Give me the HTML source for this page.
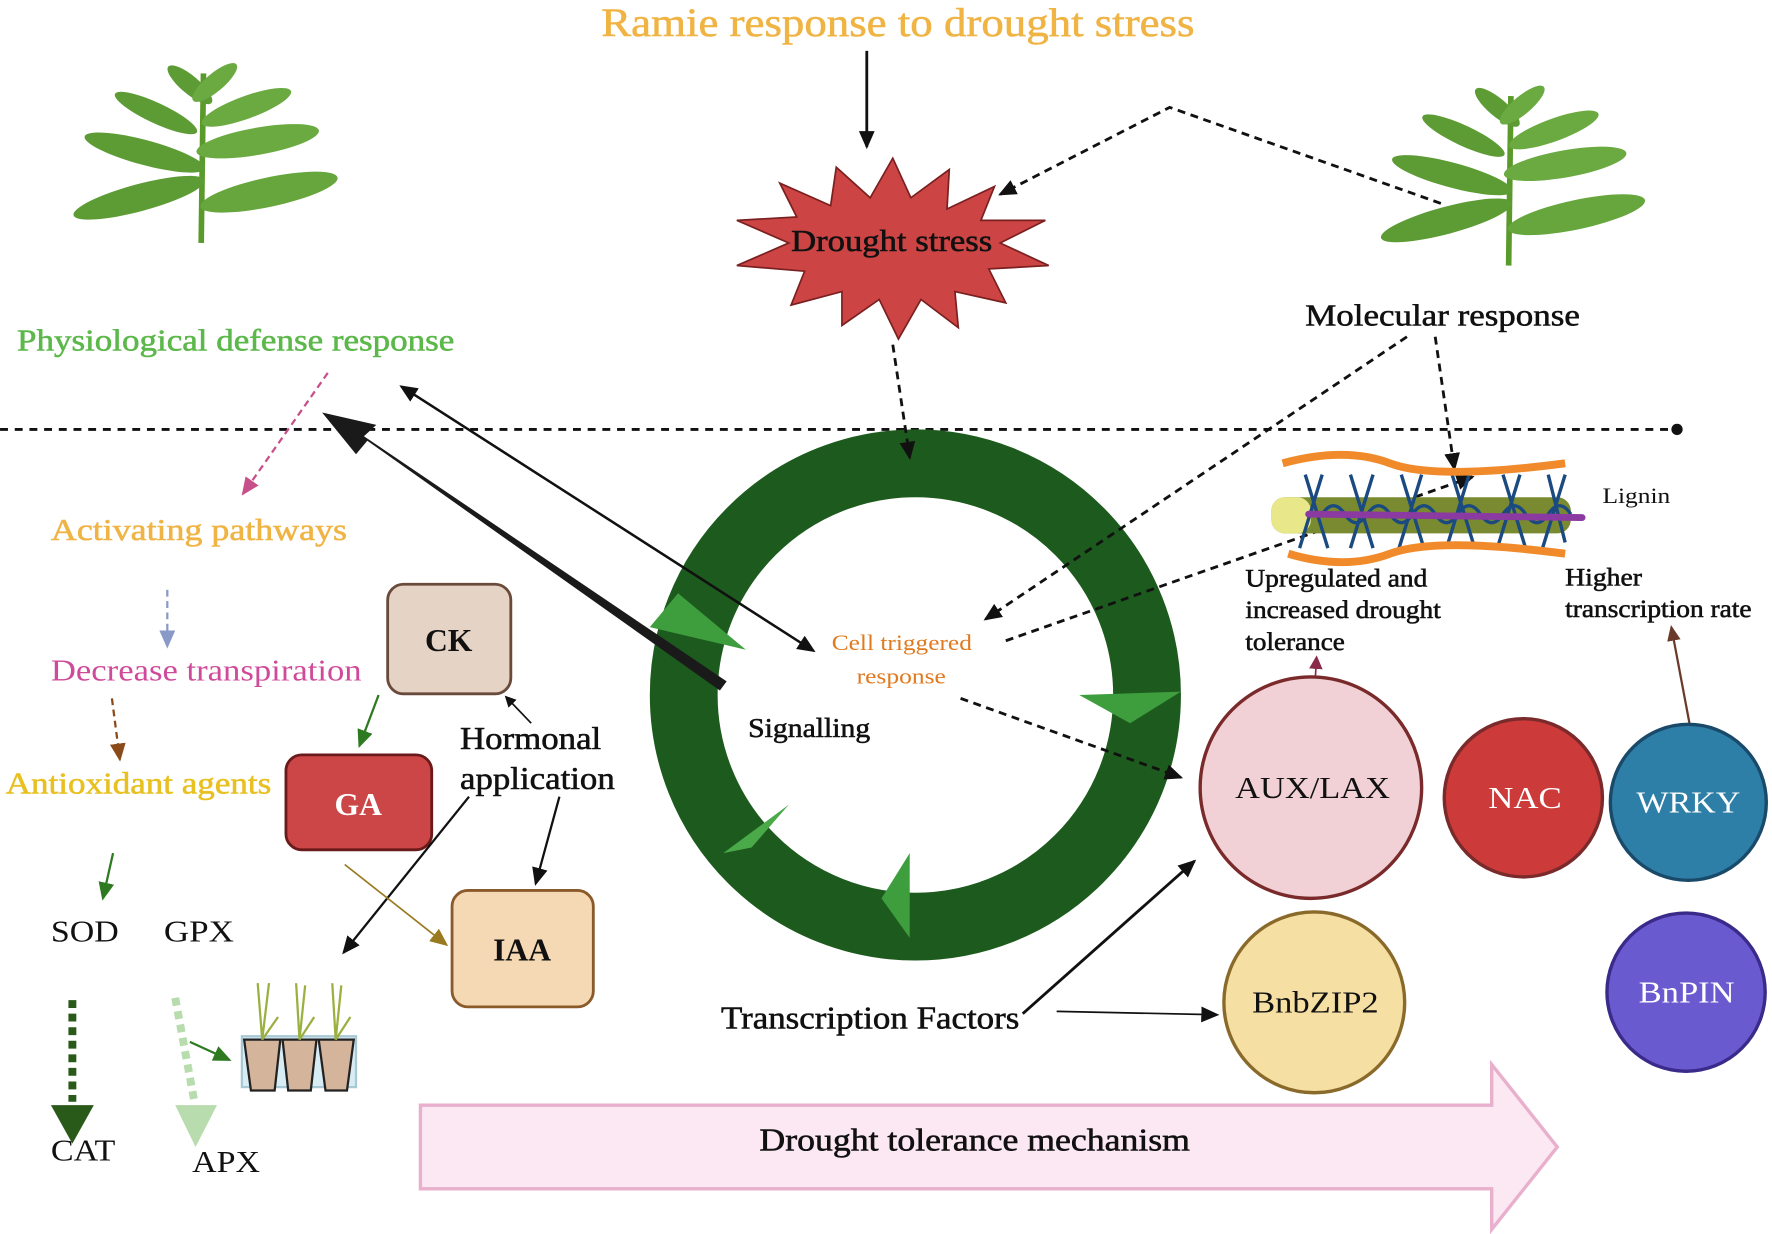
<!DOCTYPE html>
<html><head><meta charset="utf-8"><style>html,body{margin:0;padding:0;background:#fff}svg{display:block}text{stroke-width:0.5}</style></head><body>
<svg width="1772" height="1234" viewBox="0 0 1568 1092" xmlns="http://www.w3.org/2000/svg" font-family="'Liberation Serif', serif">
<defs>
<marker id="ab" markerWidth="10" markerHeight="10" refX="8" refY="5" orient="auto" markerUnits="userSpaceOnUse"><path d="M0,0 L10,5 L0,10 z" fill="#111"/></marker>
<marker id="ab2" markerWidth="16" markerHeight="14" refX="14" refY="7" orient="auto" markerUnits="userSpaceOnUse"><path d="M0,0 L16,7 L0,14 z" fill="#111"/></marker>
<marker id="ag" markerWidth="16" markerHeight="14" refX="14" refY="7" orient="auto" markerUnits="userSpaceOnUse"><path d="M0,0 L16,7 L0,14 z" fill="#2e7a20"/></marker>
<marker id="apk" markerWidth="16" markerHeight="14" refX="14" refY="7" orient="auto" markerUnits="userSpaceOnUse"><path d="M0,0 L16,7 L0,14 z" fill="#c8508a"/></marker>
<marker id="abl" markerWidth="16" markerHeight="14" refX="14" refY="7" orient="auto" markerUnits="userSpaceOnUse"><path d="M0,0 L16,7 L0,14 z" fill="#8a9ac8"/></marker>
<marker id="abr" markerWidth="16" markerHeight="14" refX="14" refY="7" orient="auto" markerUnits="userSpaceOnUse"><path d="M0,0 L16,7 L0,14 z" fill="#8a4a1a"/></marker>
<marker id="aol" markerWidth="16" markerHeight="14" refX="14" refY="7" orient="auto" markerUnits="userSpaceOnUse"><path d="M0,0 L16,7 L0,14 z" fill="#9a7a20"/></marker>
<marker id="amr" markerWidth="12" markerHeight="12" refX="10" refY="6" orient="auto" markerUnits="userSpaceOnUse"><path d="M0,0 L12,6 L0,12 z" fill="#8a2a4a"/></marker>
<marker id="abw" markerWidth="14" markerHeight="12" refX="12" refY="6" orient="auto" markerUnits="userSpaceOnUse"><path d="M0,0 L14,6 L0,12 z" fill="#6a3a2a"/></marker>
<g id="plant">
<path d="M0,80 L2,-70" stroke="#5a9a2a" stroke-width="5" fill="none"/>
<ellipse cx="-55" cy="40" rx="60" ry="12" transform="rotate(-15 -55 40)" fill="#5d9c35"/>
<ellipse cx="60" cy="35" rx="62" ry="13" transform="rotate(-12 60 35)" fill="#66a63c"/>
<ellipse cx="-50" cy="0" rx="55" ry="11" transform="rotate(15 -50 0)" fill="#5d9c35"/>
<ellipse cx="50" cy="-10" rx="55" ry="12" transform="rotate(-10 50 -10)" fill="#6aaa40"/>
<ellipse cx="-40" cy="-35" rx="40" ry="9" transform="rotate(25 -40 -35)" fill="#5d9c35"/>
<ellipse cx="40" cy="-40" rx="42" ry="10" transform="rotate(-20 40 -40)" fill="#6aaa40"/>
<ellipse cx="-10" cy="-60" rx="25" ry="8" transform="rotate(40 -10 -60)" fill="#5d9c35"/>
<ellipse cx="12" cy="-62" rx="25" ry="8" transform="rotate(-40 12 -62)" fill="#6aaa40"/>
</g>
</defs>

<text x="532" y="32" font-size="36" fill="#f0b444" stroke="#f0b444" textLength="525" lengthAdjust="spacingAndGlyphs">Ramie response to drought stress</text>
<line x1="767" y1="45" x2="767" y2="130" stroke="#111" stroke-width="2.5" marker-end="url(#ab2)"/>

<polygon fill="#cc4444" stroke="#7a2020" stroke-width="1.5" points="790,140 806,175 840,150 838,185 880,165 868,195 925,195 885,215 928,235 875,238 890,268 845,258 848,290 815,265 795,300 778,265 745,288 745,258 700,270 712,240 652,235 698,215 652,195 705,192 690,162 735,182 740,148 770,175"/>
<text x="700" y="222" font-size="27" fill="#111" stroke="#111" textLength="178" lengthAdjust="spacingAndGlyphs">Drought stress</text>

<polyline points="1275,180 1035,95 885,172" fill="none" stroke="#111" stroke-width="2.5" stroke-dasharray="7,5" marker-end="url(#ab2)"/>

<use href="#plant" transform="translate(178,135)"/>
<use href="#plant" transform="translate(1335,155)"/>

<text x="15" y="310" font-size="27" fill="#5cb84a" stroke="#5cb84a" textLength="387" lengthAdjust="spacingAndGlyphs">Physiological defense response</text>
<line x1="0" y1="380" x2="1480" y2="380" stroke="#111" stroke-width="2.5" stroke-dasharray="7,6"/>
<circle cx="1484" cy="380" r="5" fill="#111"/>

<line x1="290" y1="330" x2="215" y2="437" stroke="#c8508a" stroke-width="2" stroke-dasharray="6,4" marker-end="url(#apk)"/>
<text x="45" y="478" font-size="27" fill="#f0b444" stroke="#f0b444" textLength="262" lengthAdjust="spacingAndGlyphs">Activating  pathways</text>
<line x1="148" y1="522" x2="148" y2="572" stroke="#8a9ac8" stroke-width="2" stroke-dasharray="6,4" marker-end="url(#abl)"/>
<text x="45" y="602" font-size="27" fill="#d04a9a" textLength="275" lengthAdjust="spacingAndGlyphs">Decrease transpiration</text>
<line x1="99" y1="618" x2="106" y2="672" stroke="#8a4a1a" stroke-width="2" stroke-dasharray="6,4" marker-end="url(#abr)"/>
<text x="5" y="702" font-size="27" fill="#e8c020" stroke="#e8c020" textLength="235" lengthAdjust="spacingAndGlyphs">Antioxidant agents</text>
<line x1="100" y1="755" x2="91" y2="795" stroke="#2e7a20" stroke-width="2" marker-end="url(#ag)"/>
<text x="45" y="833" font-size="27" fill="#111" textLength="60" lengthAdjust="spacingAndGlyphs">SOD</text>
<text x="145" y="833" font-size="27" fill="#111" textLength="62" lengthAdjust="spacingAndGlyphs">GPX</text>
<line x1="64" y1="885" x2="64" y2="975" stroke="#2a5a1a" stroke-width="7" stroke-dasharray="7,5"/>
<polygon points="45,978 83,978 64,1012" fill="#2a5a1a"/>
<line x1="155" y1="883" x2="172" y2="975" stroke="#b8dcae" stroke-width="7" stroke-dasharray="7,5"/>
<polygon points="155,978 192,978 173,1015" fill="#b8dcae"/>
<text x="45" y="1027" font-size="27" fill="#111" textLength="57" lengthAdjust="spacingAndGlyphs">CAT</text>
<text x="170" y="1037" font-size="27" fill="#111" textLength="60" lengthAdjust="spacingAndGlyphs">APX</text>
<line x1="168" y1="922" x2="203" y2="938" stroke="#2e7a20" stroke-width="2" marker-end="url(#ag)"/>

<!-- pots -->
<rect x="214" y="917" width="101" height="45" fill="#d8ecf4" stroke="#a8c8d4" stroke-width="2"/>
<polygon points="216,920 248,920 243,965 222,965" fill="#d4b49a" stroke="#222" stroke-width="2"/>
<polygon points="250,920 280,920 275,965 255,965" fill="#d4b49a" stroke="#222" stroke-width="2"/>
<polygon points="282,920 313,920 307,965 288,965" fill="#d4b49a" stroke="#222" stroke-width="2"/>
<g stroke="#9ab040" stroke-width="2" fill="none">
<path d="M232,920 L228,870 M232,920 L238,870 M232,920 L246,900"/>
<path d="M265,920 L262,870 M265,920 L270,872 M265,920 L278,900"/>
<path d="M297,920 L294,870 M297,920 L302,872 M297,920 L310,900"/>
</g>

<!-- hormone boxes -->
<rect x="343" y="517" width="109" height="97" rx="14" fill="#e5d3c5" stroke="#6a4a3a" stroke-width="2.5"/>
<text x="397" y="576" font-size="28" text-anchor="middle" fill="#111" font-weight="bold">CK</text>
<rect x="253" y="668" width="129" height="84" rx="14" fill="#cc4648" stroke="#6a1a1a" stroke-width="2.5"/>
<text x="317" y="721" font-size="28" text-anchor="middle" fill="#fff" font-weight="bold">GA</text>
<rect x="400" y="788" width="125" height="103" rx="14" fill="#f5d8b4" stroke="#8a5a2a" stroke-width="2.5"/>
<text x="462" y="850" font-size="28" text-anchor="middle" fill="#111" font-weight="bold">IAA</text>
<line x1="335" y1="615" x2="318" y2="660" stroke="#2e7a20" stroke-width="2" marker-end="url(#ag)"/>
<text x="407" y="663" font-size="28" fill="#111" stroke="#111" textLength="125" lengthAdjust="spacingAndGlyphs">Hormonal</text>
<text x="407" y="698" font-size="28" fill="#111" stroke="#111" textLength="137" lengthAdjust="spacingAndGlyphs">application</text>
<line x1="470" y1="640" x2="448" y2="617" stroke="#111" stroke-width="1.5" marker-end="url(#ab)"/>
<line x1="495" y1="705" x2="474" y2="782" stroke="#111" stroke-width="2" marker-end="url(#ab2)"/>
<line x1="415" y1="705" x2="304" y2="843" stroke="#111" stroke-width="2" marker-end="url(#ab2)"/>
<line x1="305" y1="765" x2="395" y2="836" stroke="#9a7a20" stroke-width="1.5" marker-end="url(#aol)"/>

<!-- ring -->
<circle cx="810" cy="615" r="205" fill="none" stroke="#1d5a1d" stroke-width="60"/>
<polygon points="575,555 660,575 600,525" fill="#3e9e3e"/>
<polygon points="955,615 1045,612 1000,640" fill="#3e9e3e"/>
<polygon points="640,755 698,712 665,750" fill="#4aaa4a"/>
<polygon points="805,755 805,830 780,795" fill="#3e9e3e"/>

<text x="736" y="575" font-size="20" fill="#e07a20" textLength="124" lengthAdjust="spacingAndGlyphs">Cell triggered</text>
<text x="758" y="605" font-size="20" fill="#e07a20" textLength="79" lengthAdjust="spacingAndGlyphs">response</text>
<text x="662" y="652" font-size="24" fill="#111" stroke="#111" textLength="108" lengthAdjust="spacingAndGlyphs">Signalling</text>

<!-- big arrows -->
<polygon points="643,603 637,611 325,390 315,402 285,365 333,376 322,386" fill="#1a1a1a"/>
<line x1="715" y1="573" x2="355" y2="342" stroke="#111" stroke-width="2" marker-end="url(#ab2)"/>
<line x1="360" y1="345" x2="720" y2="576" stroke="#111" stroke-width="2" marker-end="url(#ab2)"/>
<line x1="790" y1="305" x2="805" y2="405" stroke="#111" stroke-width="2.5" stroke-dasharray="7,5" marker-end="url(#ab2)"/>

<text x="1155" y="288" font-size="27" fill="#111" stroke="#111" textLength="243" lengthAdjust="spacingAndGlyphs">Molecular response</text>
<line x1="1245" y1="298" x2="872" y2="548" stroke="#111" stroke-width="2.5" stroke-dasharray="7,5" marker-end="url(#ab2)"/>
<line x1="1270" y1="298" x2="1287" y2="415" stroke="#111" stroke-width="2.5" stroke-dasharray="7,5" marker-end="url(#ab2)"/>
<line x1="890" y1="567" x2="1303" y2="422" stroke="#111" stroke-width="2.5" stroke-dasharray="7,5" marker-end="url(#ab2)"/>
<line x1="850" y1="618" x2="1045" y2="688" stroke="#111" stroke-width="2.5" stroke-dasharray="7,5" marker-end="url(#ab2)"/>

<!-- lignin -->
<rect x="1125" y="440" width="265" height="32" rx="12" fill="#7a8a30"/>
<rect x="1125" y="440" width="35" height="32" rx="12" fill="#e8e88a"/>
<g stroke="#1a4a80" stroke-width="3" fill="none">
<path d="M1155,420 L1175,485 M1170,420 L1150,485 M1195,420 L1215,485 M1215,420 L1195,485 M1240,420 L1260,485 M1258,420 L1238,485 M1285,420 L1305,485 M1300,420 L1280,485 M1330,420 L1350,485 M1345,420 L1325,485 M1370,420 L1385,480 M1385,420 L1365,485"/>
<path d="M1170,455 q10,-15 20,0 t20,0 t20,0 t20,0 t20,0 t20,0 t20,0 t20,0 t20,0 t20,0 t20,0"/>
</g>
<path d="M1135,410 Q1190,395 1230,410 T1385,410" stroke="#f08a2a" stroke-width="7" fill="none"/>
<path d="M1140,490 Q1190,505 1230,490 T1385,490" stroke="#f08a2a" stroke-width="7" fill="none"/>
<line x1="1158" y1="455" x2="1400" y2="458" stroke="#8a3aa0" stroke-width="6" stroke-linecap="round"/>
<text x="1418" y="445" font-size="20" fill="#111" textLength="60" lengthAdjust="spacingAndGlyphs">Lignin</text>

<g font-size="22" fill="#111" stroke="#111" stroke-width="0.4">
<text x="1102" y="519" textLength="161" lengthAdjust="spacingAndGlyphs">Upregulated and</text>
<text x="1102" y="547" textLength="173" lengthAdjust="spacingAndGlyphs">increased drought</text>
<text x="1102" y="575" textLength="88" lengthAdjust="spacingAndGlyphs">tolerance</text>
<text x="1385" y="518" textLength="68" lengthAdjust="spacingAndGlyphs">Higher</text>
<text x="1385" y="546" textLength="165" lengthAdjust="spacingAndGlyphs">transcription rate</text>
</g>

<line x1="1162" y1="632" x2="1165" y2="582" stroke="#8a2a4a" stroke-width="1.5" marker-end="url(#amr)"/>
<line x1="1495" y1="640" x2="1479" y2="555" stroke="#6a3a2a" stroke-width="2" marker-end="url(#abw)"/>

<circle cx="1160" cy="697" r="98" fill="#f1d1d5" stroke="#7a2a2a" stroke-width="3"/>
<text x="1093" y="706" font-size="27" fill="#111" textLength="137" lengthAdjust="spacingAndGlyphs">AUX/LAX</text>
<circle cx="1348" cy="706" r="70" fill="#cc3a3a" stroke="#7a2a2a" stroke-width="3"/>
<text x="1317" y="715" font-size="27" fill="#fff" textLength="65" lengthAdjust="spacingAndGlyphs">NAC</text>
<circle cx="1494" cy="710" r="69" fill="#2e7fa8" stroke="#1a4a6a" stroke-width="3"/>
<text x="1448" y="719" font-size="27" fill="#fff" textLength="92" lengthAdjust="spacingAndGlyphs">WRKY</text>
<circle cx="1163" cy="887" r="80" fill="#f5dfa2" stroke="#8a6a2a" stroke-width="3"/>
<text x="1108" y="896" font-size="27" fill="#111" textLength="112" lengthAdjust="spacingAndGlyphs">BnbZIP2</text>
<circle cx="1492" cy="878" r="70" fill="#6a5ad0" stroke="#3a2a8a" stroke-width="3"/>
<text x="1450" y="887" font-size="27" fill="#fff" textLength="85" lengthAdjust="spacingAndGlyphs">BnPIN</text>

<text x="638" y="910" font-size="28" fill="#111" stroke="#111" textLength="264" lengthAdjust="spacingAndGlyphs">Transcription Factors</text>
<line x1="905" y1="897" x2="1057" y2="762" stroke="#111" stroke-width="2.5" marker-end="url(#ab2)"/>
<line x1="935" y1="895" x2="1077" y2="898" stroke="#111" stroke-width="1.5" marker-end="url(#ab2)"/>

<polygon points="372,978 1320,978 1320,942 1378,1015 1320,1088 1320,1052 372,1052" fill="#fce8f2" stroke="#e8b0cc" stroke-width="3"/>
<text x="672" y="1018" font-size="28" fill="#111" stroke="#111" textLength="381" lengthAdjust="spacingAndGlyphs">Drought  tolerance mechanism</text>
</svg>
</body></html>
